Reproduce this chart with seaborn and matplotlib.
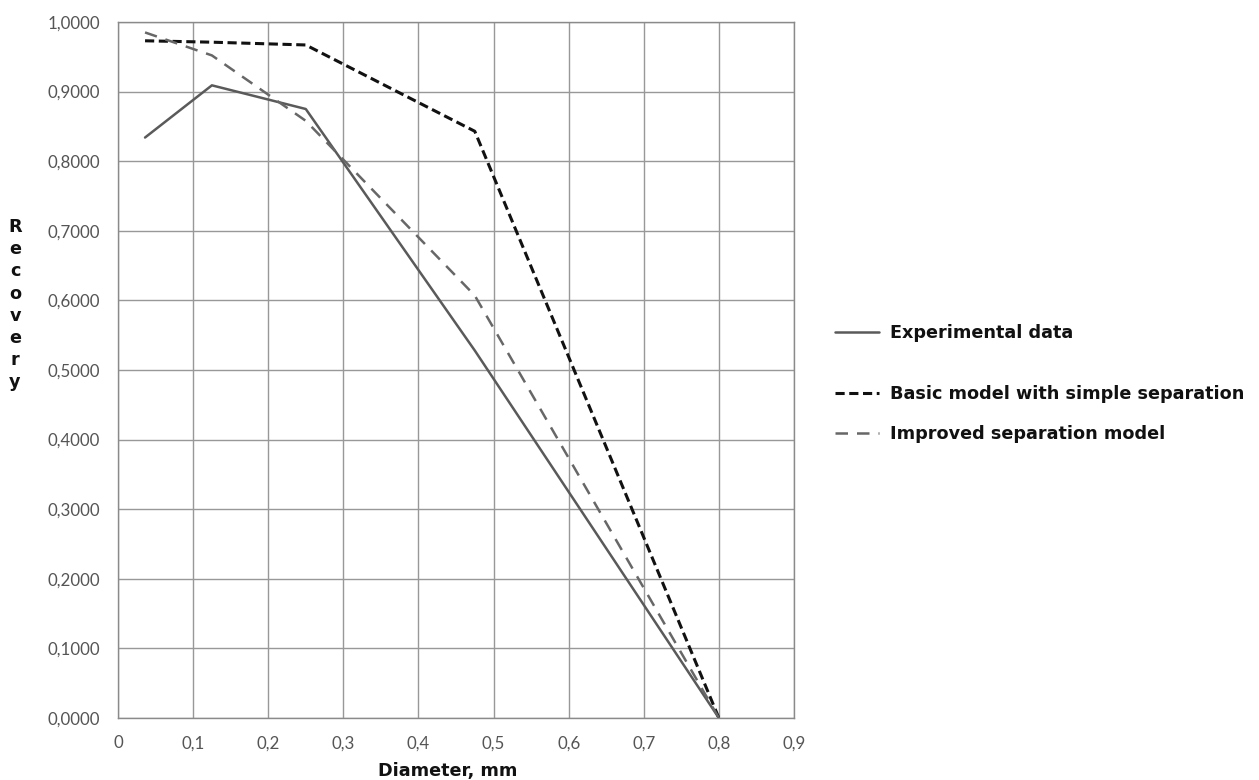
import matplotlib
matplotlib.use("Agg")
import matplotlib.pyplot as plt
import matplotlib.ticker as mticker
import pandas as pd
import seaborn as sns

# Particle diameter classes (mm) and recovery per model
diameter = [0.036, 0.125, 0.25, 0.475, 0.80]
experimental = [0.834, 0.909, 0.875, 0.528, 0.0]
basic_model = [0.973, 0.971, 0.967, 0.843, 0.0]
improved_model = [0.985, 0.952, 0.858, 0.607, 0.0]

series_names = ["Experimental data",
                "Basic model with simple separation",
                "Improved separation model"]
x_ticks = [0.0, 0.1, 0.2, 0.3, 0.4, 0.5, 0.6, 0.7, 0.8, 0.9]
y_ticks = [0.0, 0.1, 0.2, 0.3, 0.4, 0.5, 0.6, 0.7, 0.8, 0.9, 1.0]

df = pd.concat([
    pd.DataFrame({"Diameter": diameter, "Recovery": vals, "Series": name})
    for name, vals in zip(series_names, [experimental, basic_model, improved_model])
], ignore_index=True)

sns.set_theme(style="white")
plt.rcParams["font.family"] = ["DejaVu Sans"]

W, H = 1259, 780
fig = plt.figure(figsize=(W / 100, H / 100), dpi=100)
ax = fig.add_axes([118 / W, 1 - 718 / H, (794 - 118) / W, (718 - 22) / H])

palette = {series_names[0]: "#5a5a5a",
           series_names[1]: "#111111",
           series_names[2]: "#676767"}
dashes = {series_names[0]: "",
          series_names[1]: (3.0, 1.5),
          series_names[2]: (5.0, 3.6)}
widths = {series_names[0]: 1.8, series_names[1]: 2.2, series_names[2]: 1.8}

sns.lineplot(data=df, x="Diameter", y="Recovery", hue="Series", style="Series",
             palette=palette, dashes=dashes, sort=False, ax=ax, legend=False)
for line, name in zip(ax.get_lines(), series_names):
    line.set_linewidth(widths[name])

ax.set_xlim(0, 0.9)
ax.set_ylim(0, 1.0)
ax.set_xticks(x_ticks)
ax.set_yticks(y_ticks)
ax.xaxis.set_major_formatter(mticker.FuncFormatter(
    lambda v, p: "0" if abs(v) < 1e-9 else f"{v:.1f}".replace(".", ",")))
ax.yaxis.set_major_formatter(mticker.FuncFormatter(
    lambda v, p: f"{v:.4f}".replace(".", ",")))
ax.grid(True, color="#989898", linewidth=1.0)
for sp in ax.spines.values():
    sp.set_color("#8a8a8a")
    sp.set_linewidth(1.0)
ax.tick_params(axis="both", length=0, labelsize=12.2, colors="#555555")
ax.tick_params(axis="x", pad=12.5)
ax.tick_params(axis="y", pad=13)
for lbl in ax.get_xticklabels() + ax.get_yticklabels():
    lbl.set_family(["Lato", "DejaVu Sans"])

ax.set_xlabel("")
ax.set_ylabel("")
bold = {"fontsize": 12.7, "fontweight": "bold", "color": "#111111"}
fig.text(448 / W, 1 - 771 / H, "Diameter, mm", ha="center", va="center", **bold)

# Vertical stacked axis title
for i, ch in enumerate("Recovery"):
    fig.text(15 / W, 1 - (227 + i * 22.2) / H, ch, ha="center", va="center", **bold)

# Legend entries to the right of the plot
rows = [333, 394, 434]
for name, row in zip(series_names, rows):
    h = plt.Line2D([], [], color=palette[name], linewidth=widths[name])
    if dashes[name]:
        h.set_dashes(dashes[name])
    leg = fig.legend([h], [name], loc="center left",
                     bbox_to_anchor=(835 / W, 1 - row / H), frameon=False,
                     borderpad=0, borderaxespad=0,
                     handlelength=2.5, handletextpad=0.6,
                     prop={"size": 12.7, "weight": "bold"})
    for t in leg.get_texts():
        t.set_color("#111111")

fig.savefig("out.png", dpi=100, facecolor="white")
